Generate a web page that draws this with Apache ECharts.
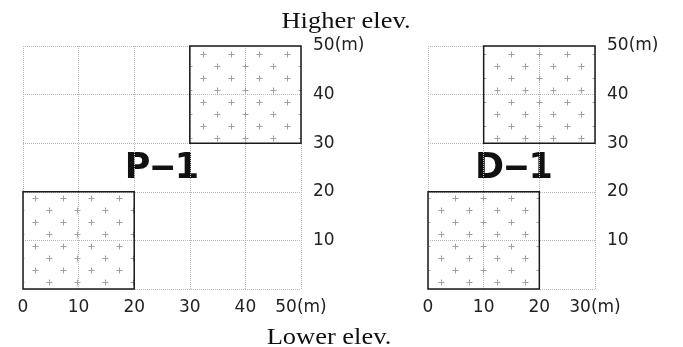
<!DOCTYPE html>
<html>
<head>
<meta charset="utf-8">
<script src="https://cdn.jsdelivr.net/npm/echarts@6/dist/echarts.min.js"></script>
<style>
  html, body { margin: 0; padding: 0; background: #fff; }
  #chart { width: 683px; height: 347px; }
</style>
</head>
<body>
<div id="chart"></div>
<script>
// plot squares as [x0, y0, x1, y1] in metres
const p1Plots = [[30, 30, 50, 50], [0, 0, 20, 20]]
const d1Plots = [[10, 30, 30, 50], [0, 0, 20, 20]]
const p1XMax = 50
const d1XMax = 30
const yMax = 50
const p1XLabels = ['0', '10', '20', '30', '40', '50(m)']
const d1XLabels = ['0', '10', '20', '30(m)']
const yLabels = ['', '10', '20', '30', '40', '50(m)']
const siteNames = ['P\u20121', 'D\u20121']

// small "+" texture for the plot fill
function plusPattern() {
  const c = document.createElement('canvas')
  c.width = 28
  c.height = 24
  const ctx = c.getContext('2d')
  ctx.strokeStyle = '#a0a0a0'
  ctx.lineWidth = 1
  const pts = [[7, 6], [21, 18]]
  pts.forEach(([x, y]) => {
    ctx.beginPath()
    ctx.moveTo(x - 2.5, y + 0.5)
    ctx.lineTo(x + 3.5, y + 0.5)
    ctx.moveTo(x + 0.5, y - 2.5)
    ctx.lineTo(x + 0.5, y + 3.5)
    ctx.stroke()
  })
  return c
}
const pattern = { image: plusPattern(), repeat: 'repeat' }

const numFont = '"DejaVu Sans", sans-serif'
const serifFont = '"Liberation Serif", "DejaVu Serif", serif'

function xAxis(idx, max, labels) {
  return {
    gridIndex: idx,
    type: 'value',
    min: 0,
    max: max,
    interval: 10,
    axisLine: { show: false },
    axisTick: { show: false },
    axisLabel: {
      margin: 10,
      color: '#222',
      fontSize: 17,
      fontFamily: numFont,
      formatter: v => labels[v / 10]
    },
    splitLine: { lineStyle: { type: 'dotted', color: '#b8b8b8', width: 1 } }
  }
}

function yAxis(idx) {
  return {
    gridIndex: idx,
    type: 'value',
    position: 'right',
    min: 0,
    max: yMax,
    interval: 10,
    axisLine: { show: false },
    axisTick: { show: false },
    axisLabel: {
      margin: 12,
      color: '#222',
      fontSize: 17,
      fontFamily: numFont,
      formatter: v => yLabels[v / 10]
    },
    splitLine: { lineStyle: { type: 'dotted', color: '#b8b8b8', width: 1 } }
  }
}

function plotSeries(idx, plots) {
  return {
    type: 'custom',
    xAxisIndex: idx,
    yAxisIndex: idx,
    data: plots,
    renderItem: (params, api) => {
      const a = api.coord([api.value(0), api.value(3)])
      const b = api.coord([api.value(2), api.value(1)])
      return {
        type: 'rect',
        shape: { x: a[0], y: a[1], width: b[0] - a[0], height: b[1] - a[1] },
        style: { fill: pattern, stroke: '#1a1a1a', lineWidth: 1.5 }
      }
    },
    silent: true,
    animation: false
  }
}

function label(text, x, y, font, sx) {
  return {
    type: 'text', x: x, y: y, scaleX: sx || 1,
    style: { text: text, font: font, fill: '#111', align: 'center', verticalAlign: 'middle' }
  }
}

const chart = echarts.init(document.getElementById('chart'), null, { renderer: 'canvas' })
chart.setOption({
  backgroundColor: '#fff',
  animation: false,
  grid: [
    { left: 23, top: 46, width: 278, height: 243 },
    { left: 428, top: 46, width: 167, height: 243 }
  ],
  xAxis: [xAxis(0, p1XMax, p1XLabels), xAxis(1, d1XMax, d1XLabels)],
  yAxis: [yAxis(0), yAxis(1)],
  series: [plotSeries(0, p1Plots), plotSeries(1, d1Plots)],
  graphic: [
    label('Higher elev.', 346, 22, '23px ' + serifFont, 1.15),
    label('Lower elev.', 329, 338, '23px ' + serifFont, 1.15),
    label(siteNames[0], 162, 169, 'bold 35px "DejaVu Sans", sans-serif'),
    label(siteNames[1], 514, 169, 'bold 35px "DejaVu Sans", sans-serif')
  ]
})
</script>
</body>
</html>
